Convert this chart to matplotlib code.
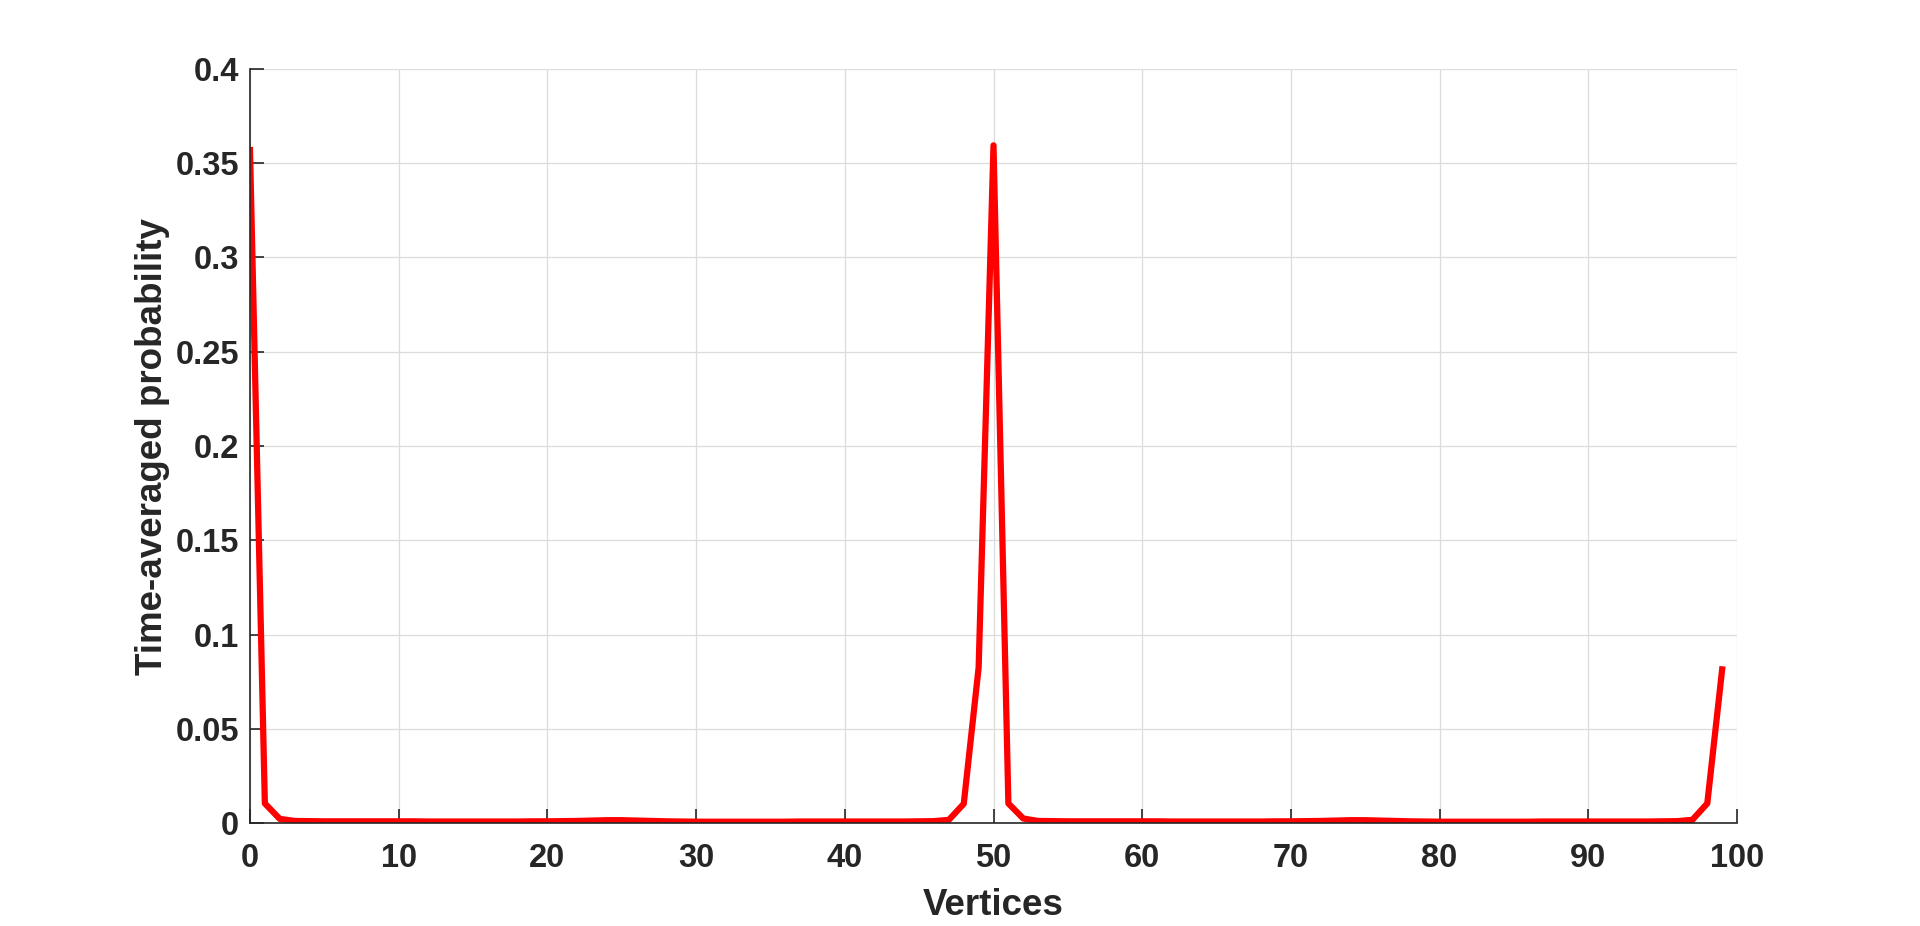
import numpy as np
import matplotlib.pyplot as plt

# vertex index and time-averaged probability
vertices = list(range(100))
prob = [
    0.3570, 0.0104, 0.0022, 0.0011, 0.0010, 0.0009, 0.0009, 0.0009, 0.0009, 0.0009,
    0.0009, 0.0009, 0.0008, 0.0008, 0.0008, 0.0008, 0.0008, 0.0008, 0.0008, 0.0009,
    0.0009, 0.0010, 0.0011, 0.0013, 0.0015, 0.0015, 0.0013, 0.0011, 0.0009, 0.0008,
    0.0007, 0.0007, 0.0007, 0.0007, 0.0007, 0.0007, 0.0007, 0.0008, 0.0008, 0.0008,
    0.0008, 0.0008, 0.0008, 0.0008, 0.0008, 0.0009, 0.0010, 0.0017, 0.0102, 0.0825,
    0.3595, 0.0104, 0.0024, 0.0011, 0.0010, 0.0009, 0.0009, 0.0009, 0.0009, 0.0009,
    0.0009, 0.0009, 0.0008, 0.0008, 0.0008, 0.0008, 0.0008, 0.0008, 0.0008, 0.0009,
    0.0009, 0.0010, 0.0011, 0.0013, 0.0015, 0.0015, 0.0013, 0.0011, 0.0009, 0.0008,
    0.0007, 0.0007, 0.0007, 0.0007, 0.0007, 0.0007, 0.0007, 0.0008, 0.0008, 0.0008,
    0.0008, 0.0008, 0.0008, 0.0008, 0.0008, 0.0009, 0.0010, 0.0017, 0.0104, 0.0815,
]
x_ticks = np.arange(0, 101, 10)
y_ticks = np.arange(0, 0.401, 0.05)
y_labels = ['0', '0.05', '0.1', '0.15', '0.2', '0.25', '0.3', '0.35', '0.4']

plt.rcParams['font.family'] = ['Liberation Sans', 'DejaVu Sans']
plt.rcParams['font.weight'] = 'bold'

fig = plt.figure(figsize=(19.2, 9.26), dpi=100)
ax = fig.add_axes([0.1302, 0.1112, 0.7745, 0.8143])

ax.plot(vertices, prob, color='#ff0000', linewidth=4.5, solid_joinstyle='round')

ax.set_xlim(0, 100)
ax.set_ylim(0, 0.4)
ax.set_xticks(x_ticks)
ax.set_yticks(y_ticks)
ax.set_yticklabels(y_labels)

ax.grid(True, color='#dcdcdc', linewidth=0.9)
ax.set_axisbelow(True)
for side in ['top', 'right']:
    ax.spines[side].set_visible(False)
for side in ['left', 'bottom']:
    ax.spines[side].set_color('#262626')
    ax.spines[side].set_linewidth(1.2)

ax.tick_params(axis='both', direction='in', length=10, width=1.2, color='#262626',
               labelsize=23.5, labelcolor='#262626')
ax.tick_params(axis='x', pad=14.5)
ax.tick_params(axis='y', pad=8)
for lbl in ax.get_xticklabels() + ax.get_yticklabels():
    lbl.set_fontweight('bold')

ax.set_xlabel('Vertices', fontsize=26.5, fontweight='bold', color='#262626', labelpad=10)
ax.set_ylabel('Time-averaged probability', fontsize=26.5, fontweight='bold',
              color='#262626', labelpad=4)

fig.savefig('out.png', dpi=100)
